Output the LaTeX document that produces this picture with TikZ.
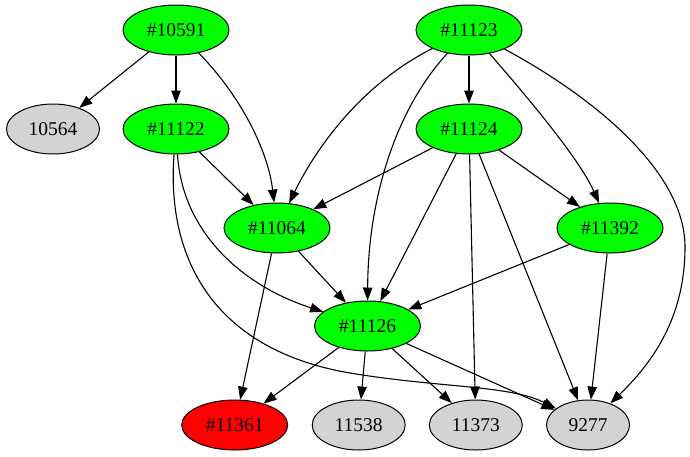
\documentclass[tikz,border=0pt]{standalone}
\usepackage{fontspec}
\setmainfont{Liberation Serif}
\usepackage{tikz}
\usetikzlibrary{shapes.geometric,arrows.meta}

\begin{document}
\begin{tikzpicture}[x=1pt,y=-1pt,
    task/.style={ellipse,draw=black,line width=1pt,inner sep=0pt,
      minimum width=106pt,minimum height=50pt,
      font=\fontsize{19.5}{23}\selectfont},
    done/.style={task,fill=green},
    fail/.style={task,fill=red},
    dep/.style={task,fill={rgb,255:red,211;green,211;blue,211},minimum width=93pt},
    link/.style={-{Triangle[length=13pt,width=9.5pt]},line width=1.1pt}]
      \useasboundingbox (0,0) rectangle (690,456);
      \node[done] (n10591) at (176,30) {\#10591};
      \node[done] (n11123) at (469,30) {\#11123};
      \node[dep] (n10564) at (53,129) {10564};
      \node[done] (n11122) at (176,129) {\#11122};
      \node[done] (n11124) at (469,129) {\#11124};
      \node[done] (n11064) at (277,228) {\#11064};
      \node[done] (n11392) at (610,228) {\#11392};
      \node[done] (n11126) at (367.5,326) {\#11126};
      \node[fail] (n11361) at (234.7,425) {\#11361};
      \node[dep] (n11538) at (358.7,425) {11538};
      \node[dep] (n11373) at (475.8,425) {11373};
      \node[dep,minimum width=83pt] (n9277) at (588,425) {9277};
      \path[link]
        (n10591) edge (n10564)
        (n10591) edge (n11122)
        (n11123) edge (n11124)
        (n11122) edge (n11064)
        (n11124) edge (n11064)
        (n11124) edge (n11126)
        (n11124) edge (n11392)
        (n11124) edge (n11373)
        (n11124) edge (n9277)
        (n11064) edge (n11126)
        (n11064) edge (n11361)
        (n11392) edge (n11126)
        (n11392) edge (n9277)
        (n11126) edge (n11361)
        (n11126) edge (n11538)
        (n11126) edge (n11373)
        (n11126) edge (n9277)
      ;
      % curved links
      \draw[link] (n10591) .. controls (240,95) and (268,150) .. (n11064);
      \draw[link] (n11123) .. controls (360,85) and (315,150) .. (n11064);
      \draw[link] (n11123) .. controls (395,110) and (368,200) .. (n11126);
      \draw[link] (n11123) .. controls (530,100) and (580,160) .. (n11392);
      \draw[link] (n11123) .. controls (590,95) and (685,170) .. (685,247)
        .. controls (685,320) and (650,365) .. (n9277);
      \draw[link] (n11122) .. controls (182,230) and (240,285) .. (n11126);
      \draw[link] (n11122) .. controls (166,260) and (215,350) .. (350,373)
        .. controls (440,388) and (510,385) .. (n9277);
\end{tikzpicture}
\end{document}
